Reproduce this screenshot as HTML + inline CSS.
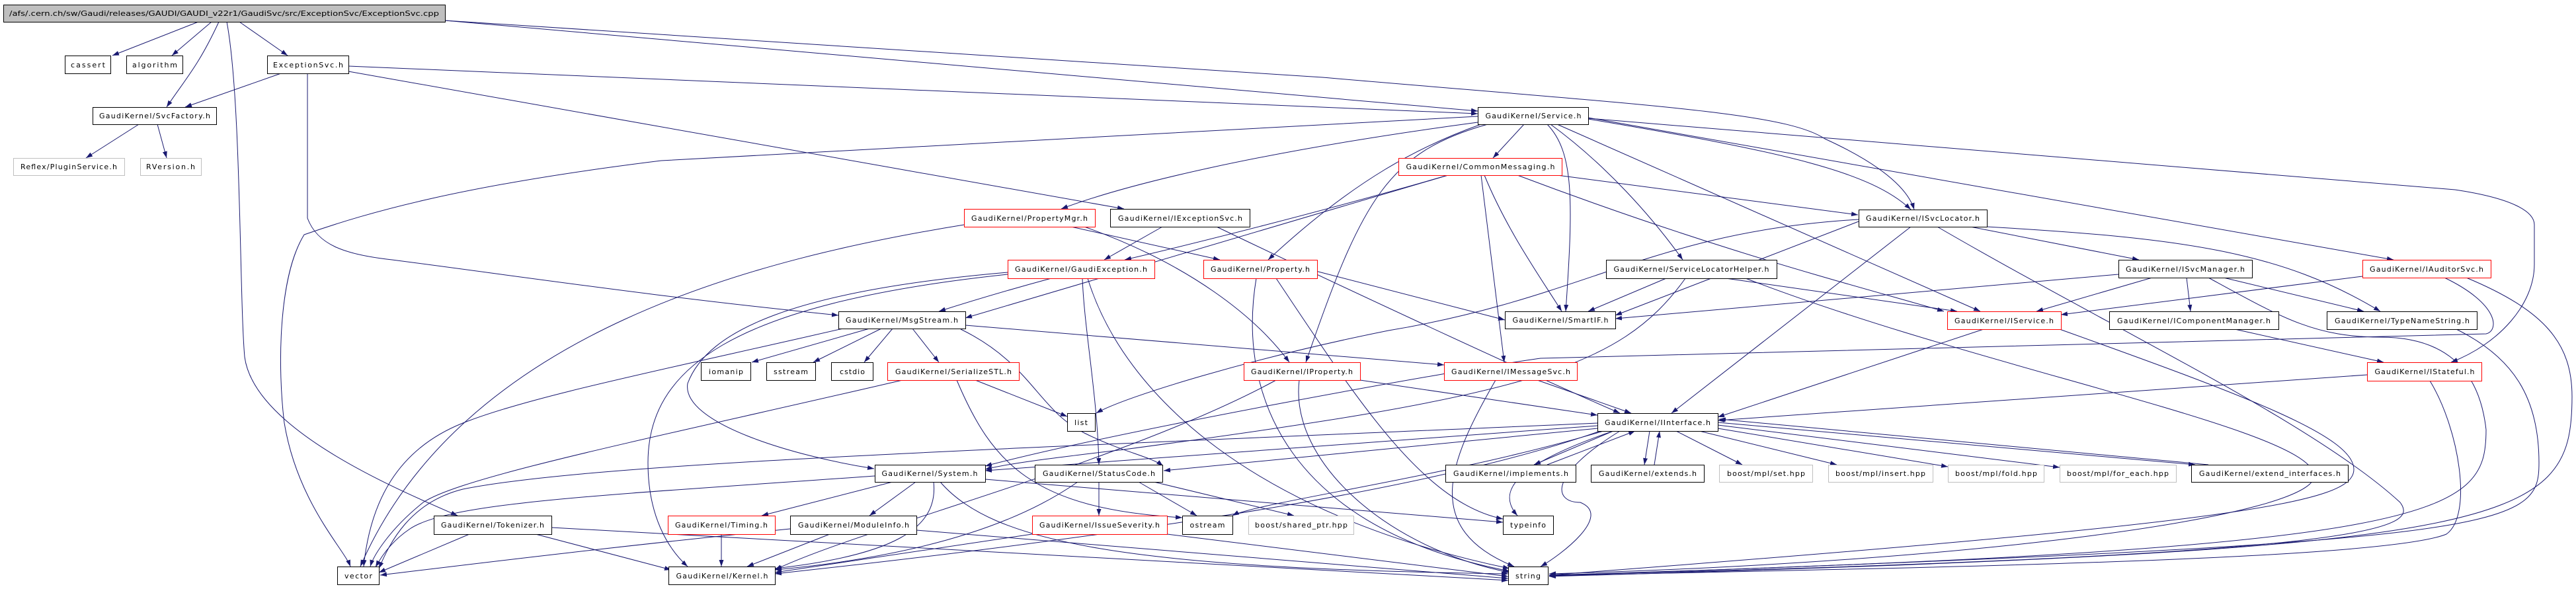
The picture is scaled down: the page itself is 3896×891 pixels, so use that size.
<!DOCTYPE html>
<html><head><meta charset="utf-8"><style>html,body{margin:0;padding:0;background:#fff}svg{display:block}text{font-family:"DejaVu Sans","Liberation Sans",sans-serif;font-size:11px;fill:#000}</style></head><body>
<svg width="3896" height="891" viewBox="0 0 3896 891" xmlns="http://www.w3.org/2000/svg">
<defs><marker id="a" markerWidth="10" markerHeight="8" refX="10" refY="3.5" orient="auto" markerUnits="userSpaceOnUse"><path d="M0,0 L10,3.5 L0,7 z" fill="#191970"/></marker></defs>
<g fill="none" stroke="#191970" stroke-width="1" marker-end="url(#a)">
<path d="M300,33 L170,84"/><path d="M320,33 L260,84"/><path d="M362,33 L435,84"/>
<path d="M331,33 C300,100 280,120 252,162"/>
<path d="M343,33 C365,150 362,450 370,540 C385,650 600,740 692,780"/>
<path d="M673,31 L2235,168"/>
<path d="M673,31 L2000,117 C2500,160 2700,170 2760,210 C2870,260 2890,300 2895,317"/>
<path d="M527,100 L2235,172"/>
<path d="M527,108 L1700,316"/>
<path d="M2235,176 L1000,243 C700,280 560,320 460,355 C420,420 420,560 430,640 C450,760 520,830 530,857"/>
<path d="M465,111 L465,330 C480,370 520,385 593,393 C800,420 1000,450 1268,477"/>
<path d="M425,111 L280,162"/>
<path d="M210,188 L130,239"/><path d="M238,188 L252,239"/>
<path d="M2305,188 L2258,239"/>
<path d="M2235,185 C1900,230 1700,280 1605,316"/>
<path d="M2240,188 C2150,220 2050,270 1918,393"/>
<path d="M2250,188 C2100,230 2060,300 1975,548"/>
<path d="M2340,188 C2380,230 2380,300 2368,471"/>
<path d="M2345,188 C2430,250 2500,330 2545,393"/>
<path d="M2355,188 L2995,471"/>
<path d="M2402,180 C2700,230 2830,260 2890,317"/>
<path d="M2402,178 L3620,393"/>
<path d="M2402,179 L3713,287 C3800,300 3833,320 3833,340 L3833,400 C3833,460 3780,520 3707,548"/>
<path d="M2190,265 L1460,481"/>
<path d="M1458,340 C1150,390 700,500 545,857"/>
<path d="M1275,497 C1000,560 800,600 700,640 C600,680 560,760 550,857"/>
<path d="M1365,575 C1000,660 700,720 640,760 C590,800 565,840 560,857"/>
<path d="M1323,720 C900,750 680,760 620,800 C590,820 575,845 568,858"/>
<path d="M2416,640 C1500,680 900,700 700,740 C620,760 590,820 573,860"/>
<path d="M710,808 L573,866"/>
<path d="M1195,800 C900,830 700,855 575,870"/>
<path d="M1590,421 C1520,440 1470,455 1420,471"/>
<path d="M1637,421 C1640,500 1660,600 1662,703"/>
<path d="M1524,412 C1200,440 1070,500 1040,580 C1030,640 1200,690 1322,709"/>
<path d="M1524,415 C1100,460 980,560 980,700 C980,780 1010,830 1040,857"/>
<path d="M1645,421 C1700,600 1900,780 2283,860"/>
<path d="M1620,343 L1845,393"/>
<path d="M1640,343 C1800,400 1900,480 1950,548"/>
<path d="M1758,343 L1670,393"/>
<path d="M1840,343 C2000,420 2300,560 2450,625"/>
<path d="M2190,265 C2000,320 1800,370 1701,393"/>
<path d="M2355,265 L2810,325"/>
<path d="M2245,265 C2280,350 2330,420 2362,471"/>
<path d="M2240,265 L2275,548"/>
<path d="M2295,265 C2600,380 2800,430 2940,471"/>
<path d="M1990,410 L2276,484"/>
<path d="M1930,421 C2050,600 2150,760 2273,785"/>
<path d="M1900,421 C1870,600 1950,800 2283,864"/>
<path d="M1315,497 L1137,548"/><path d="M1333,497 L1230,548"/><path d="M1350,497 L1307,548"/><path d="M1380,497 L1420,548"/>
<path d="M1460,492 L2184,552"/>
<path d="M1453,498 C1560,550 1570,620 1640,655 C1700,685 1740,690 1759,705"/>
<path d="M1475,575 L1614,630"/>
<path d="M1447,575 C1500,700 1560,770 1788,783"/>
<path d="M2057,575 L2416,628"/>
<path d="M1930,575 C1700,700 1300,800 1172,862"/>
<path d="M1965,575 C1950,700 2100,830 2283,866"/>
<path d="M2325,575 L2467,625"/>
<path d="M2262,575 C2190,700 2150,800 2290,857"/>
<path d="M2890,343 L2528,625"/>
<path d="M2811,335 L2443,477"/>
<path d="M2980,343 L3235,393"/>
<path d="M3005,343 C3300,360 3450,380 3600,471"/>
<path d="M2811,332 C2500,350 2400,450 2100,500 C1900,540 1700,600 1658,625"/>
<path d="M2930,343 C3200,500 3500,640 3630,760 C3660,800 3600,840 2343,870"/>
<path d="M3255,420 L3080,471"/><path d="M3307,420 L3313,471"/><path d="M3363,420 L3575,471"/>
<path d="M3204,415 L2443,482"/>
<path d="M3340,420 C3450,480 3500,510 3600,510 C3700,510 3750,560 3760,650 C3760,780 3700,830 2343,870"/>
<path d="M3573,418 L3117,476"/>
<path d="M3730,420 C3850,470 3890,520 3890,600 C3890,800 3800,830 2343,872"/>
<path d="M3697,420 C3780,460 3780,500 3760,505 L2330,542 C2200,560 1700,650 1490,705"/>
<path d="M3380,498 L3605,548"/>
<path d="M3580,567 L2598,636"/>
<path d="M3675,576 C3720,650 3740,780 3700,808 C3600,850 2800,860 2343,871"/>
<path d="M3715,498 C3800,540 3840,600 3840,700 C3840,800 3800,820 2343,871"/>
<path d="M3000,498 L2598,631"/>
<path d="M3115,498 C3400,600 3560,660 3560,710 C3560,760 3400,790 2343,870"/>
<path d="M2520,421 L2402,471"/>
<path d="M2610,421 L2960,471"/>
<path d="M2549,421 C2450,560 2300,600 1700,680 C1600,692 1530,700 1490,710"/>
<path d="M2640,421 C3000,560 3500,650 3500,720 C3500,780 3000,850 2343,868"/>
<path d="M2440,652 L2320,703"/><path d="M2340,703 L2473,652"/>
<path d="M2495,652 L2487,703"/><path d="M2502,703 L2510,652"/>
<path d="M2535,652 L2635,703"/><path d="M2570,652 L2778,703"/>
<path d="M2598,648 L2946,706"/><path d="M2598,643 L3115,707"/>
<path d="M2598,639 L3320,703"/><path d="M3340,703 L2600,634"/>
<path d="M2416,644 L1490,712"/>
<path d="M2416,648 L1760,712"/>
<path d="M2420,652 C2200,730 1800,800 1172,868"/>
<path d="M2440,652 C2300,700 2260,740 2295,780"/>
<path d="M2425,652 C2200,720 1900,760 1864,780"/>
<path d="M2450,652 C2340,720 2350,760 2390,760 C2440,780 2360,840 2330,857"/>
<path d="M1350,729 L1152,780"/><path d="M1385,729 L1315,780"/>
<path d="M1412,729 C1420,800 1350,840 1172,860"/>
<path d="M1422,729 C1500,820 1700,860 2281,868"/>
<path d="M1490,725 L2273,790"/>
<path d="M1662,729 L1662,780"/><path d="M1722,729 L1810,780"/><path d="M1745,729 L1957,780"/>
<path d="M1630,729 C1500,820 1300,850 1172,862"/>
<path d="M1561,808 L1172,866"/><path d="M1765,808 L2281,872"/>
<path d="M1255,808 L1130,857"/><path d="M1386,802 L2281,875"/>
<path d="M1091,808 L1091,857"/>
<path d="M810,808 L1015,862"/><path d="M834,798 L2281,878"/>
</g>
<g stroke-width="1">
<rect x="5.5" y="7.5" width="668" height="26" fill="#bfbfbf" stroke="#000"/><text x="339" y="24" text-anchor="middle" textLength="650" lengthAdjust="spacingAndGlyphs">/afs/.cern.ch/sw/Gaudi/releases/GAUDI/GAUDI_v22r1/GaudiSvc/src/ExceptionSvc/ExceptionSvc.cpp</text>
<g fill="#fff" stroke="#000">
<rect x="98.5" y="84.5" width="69" height="27"/><rect x="191.5" y="84.5" width="85" height="27"/><rect x="404.5" y="84.5" width="123" height="27"/>
<rect x="140.5" y="162.5" width="187" height="26"/><rect x="212.5" y="239.5" width="92" height="26" stroke="#bfbfbf"/><rect x="20.5" y="239.5" width="168" height="26" stroke="#bfbfbf"/>
<rect x="510.5" y="857.5" width="63" height="27"/><rect x="656.5" y="780.5" width="178" height="28"/>
<rect x="1458.5" y="316.5" width="198" height="27" stroke="#f00"/><rect x="1679.5" y="316.5" width="211" height="27"/>
<rect x="1524.5" y="393.5" width="222" height="28" stroke="#f00"/><rect x="1820.5" y="393.5" width="172" height="28" stroke="#f00"/>
<rect x="1268.5" y="471.5" width="192" height="26"/>
<rect x="1060.5" y="548.5" width="75" height="27"/><rect x="1159.5" y="548.5" width="74" height="27"/><rect x="1257.5" y="548.5" width="63" height="27"/>
<rect x="1342.5" y="548.5" width="199" height="27" stroke="#f00"/><rect x="1881.5" y="548.5" width="176" height="27" stroke="#f00"/>
<rect x="1614.5" y="625.5" width="42" height="27"/>
<rect x="1323.5" y="703.5" width="167" height="26"/><rect x="1565.5" y="703.5" width="193" height="26"/>
<rect x="1010.5" y="780.5" width="162" height="28" stroke="#f00"/><rect x="1195.5" y="780.5" width="191" height="28"/>
<rect x="1561.5" y="780.5" width="204" height="28" stroke="#f00"/><rect x="1788.5" y="780.5" width="76" height="28"/>
<rect x="1888.5" y="780.5" width="159" height="28" stroke="#bfbfbf"/>
<rect x="1011.5" y="857.5" width="161" height="27"/>
<rect x="2235.5" y="162.5" width="167" height="26"/><rect x="2115.5" y="239.5" width="247" height="26" stroke="#f00"/>
<rect x="2811.5" y="317.5" width="194" height="26"/><rect x="2429.5" y="393.5" width="258" height="28"/>
<rect x="2276.5" y="471.5" width="167" height="26"/><rect x="2184.5" y="548.5" width="201" height="27" stroke="#f00"/>
<rect x="2416.5" y="625.5" width="182" height="27"/>
<rect x="2186.5" y="703.5" width="197" height="26"/><rect x="2406.5" y="703.5" width="171" height="26"/>
<rect x="2600.5" y="703.5" width="141" height="26" stroke="#bfbfbf"/><rect x="2765.5" y="703.5" width="158" height="26" stroke="#bfbfbf"/>
<rect x="2946.5" y="703.5" width="145" height="26" stroke="#bfbfbf"/><rect x="3115.5" y="703.5" width="176" height="26" stroke="#bfbfbf"/>
<rect x="3314.5" y="703.5" width="237" height="26"/>
<rect x="2273.5" y="780.5" width="76" height="28"/><rect x="2281.5" y="857.5" width="60" height="27"/>
<rect x="2945.5" y="471.5" width="172" height="27" stroke="#f00"/>
<rect x="3204.5" y="393.5" width="202" height="27"/><rect x="3573.5" y="393.5" width="194" height="27" stroke="#f00"/>
<rect x="3190.5" y="471.5" width="256" height="27"/><rect x="3519.5" y="471.5" width="227" height="27"/>
<rect x="3580.5" y="548.5" width="173" height="28" stroke="#f00"/>
</g>
<g text-anchor="middle" lengthAdjust="spacingAndGlyphs">
<text x="133" y="102" textLength="52">cassert</text><text x="234" y="102" textLength="68">algorithm</text><text x="466" y="102" textLength="106">ExceptionSvc.h</text>
<text x="234" y="179" textLength="168">GaudiKernel/SvcFactory.h</text><text x="258" y="256" textLength="74">RVersion.h</text><text x="104" y="256" textLength="146">Reflex/PluginService.h</text>
<text x="542" y="875" textLength="42">vector</text><text x="745" y="798" textLength="156">GaudiKernel/Tokenizer.h</text>
<text x="1557" y="334" textLength="176">GaudiKernel/PropertyMgr.h</text><text x="1785" y="334" textLength="188">GaudiKernel/IExceptionSvc.h</text>
<text x="1635" y="411" textLength="200">GaudiKernel/GaudiException.h</text><text x="1906" y="411" textLength="150">GaudiKernel/Property.h</text>
<text x="1364" y="488" textLength="170">GaudiKernel/MsgStream.h</text>
<text x="1098" y="566" textLength="52">iomanip</text><text x="1196" y="566" textLength="52">sstream</text><text x="1289" y="566" textLength="38">cstdio</text>
<text x="1442" y="566" textLength="176">GaudiKernel/SerializeSTL.h</text><text x="1969" y="566" textLength="154">GaudiKernel/IProperty.h</text>
<text x="1635" y="643" textLength="20">list</text>
<text x="1406" y="720" textLength="145">GaudiKernel/System.h</text><text x="1662" y="720" textLength="170">GaudiKernel/StatusCode.h</text>
<text x="1091" y="798" textLength="140">GaudiKernel/Timing.h</text><text x="1291" y="798" textLength="168">GaudiKernel/ModuleInfo.h</text>
<text x="1663" y="798" textLength="182">GaudiKernel/IssueSeverity.h</text><text x="1826" y="798" textLength="53">ostream</text><text x="1968" y="798" textLength="140">boost/shared_ptr.hpp</text>
<text x="1092" y="875" textLength="139">GaudiKernel/Kernel.h</text>
<text x="2319" y="179" textLength="145">GaudiKernel/Service.h</text><text x="2239" y="256" textLength="225">GaudiKernel/CommonMessaging.h</text>
<text x="2908" y="334" textLength="172">GaudiKernel/ISvcLocator.h</text><text x="2558" y="411" textLength="235">GaudiKernel/ServiceLocatorHelper.h</text>
<text x="2360" y="488" textLength="145">GaudiKernel/SmartIF.h</text><text x="2285" y="566" textLength="180">GaudiKernel/IMessageSvc.h</text>
<text x="2507" y="643" textLength="160">GaudiKernel/IInterface.h</text>
<text x="2285" y="720" textLength="174">GaudiKernel/implements.h</text><text x="2492" y="720" textLength="148">GaudiKernel/extends.h</text>
<text x="2671" y="720" textLength="118">boost/mpl/set.hpp</text><text x="2844" y="720" textLength="136">boost/mpl/insert.hpp</text>
<text x="3019" y="720" textLength="124">boost/mpl/fold.hpp</text><text x="3203" y="720" textLength="154">boost/mpl/for_each.hpp</text>
<text x="3433" y="720" textLength="214">GaudiKernel/extend_interfaces.h</text>
<text x="2311" y="798" textLength="54">typeinfo</text><text x="2311" y="875" textLength="38">string</text>
<text x="3031" y="489" textLength="150">GaudiKernel/IService.h</text>
<text x="3305" y="411" textLength="180">GaudiKernel/ISvcManager.h</text><text x="3670" y="411" textLength="172">GaudiKernel/IAuditorSvc.h</text>
<text x="3318" y="489" textLength="232">GaudiKernel/IComponentManager.h</text><text x="3633" y="489" textLength="204">GaudiKernel/TypeNameString.h</text>
<text x="3667" y="566" textLength="151">GaudiKernel/IStateful.h</text>
</g>
</g>
</svg>
</body></html>
